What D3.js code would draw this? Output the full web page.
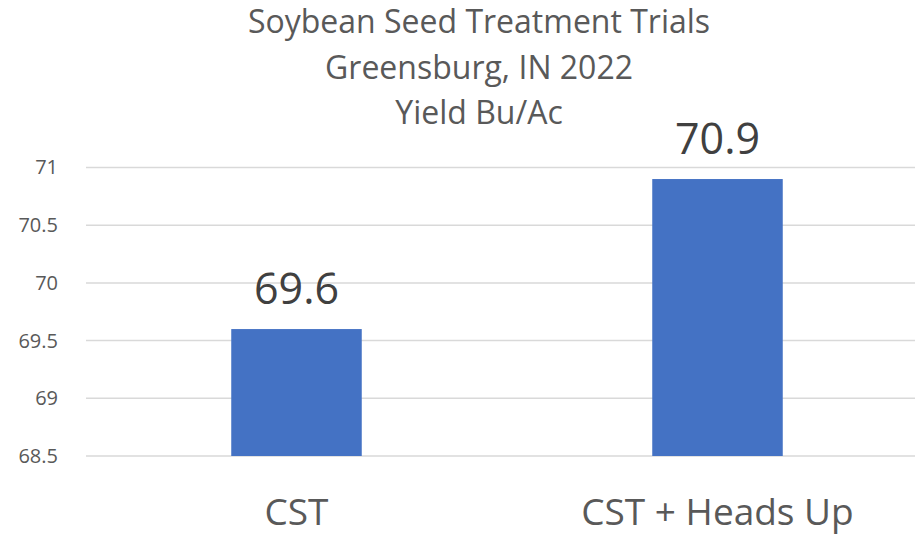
<!DOCTYPE html>
<html>
<head>
<meta charset="utf-8">
<script src="https://cdn.jsdelivr.net/npm/d3@7"></script>
<style>
  body { margin: 0; background: #fff; }
  text { font-family: "Open Sans", sans-serif; }
</style>
</head>
<body>
<script>
// chart data
var titleLines = ["Soybean Seed Treatment Trials", "Greensburg, IN 2022", "Yield Bu/Ac"];
var categories = ["CST", "CST + Heads Up"];
var yields = [69.6, 70.9];
var yTicks = [68.5, 69, 69.5, 70, 70.5, 71];

var w = 915, h = 535;

var svg = d3.select("body").append("svg")
    .attr("width", w)
    .attr("height", h);

var x = d3.scaleBand()
    .domain(categories)
    .range([86, 928])
    .paddingInner(0.69)
    .paddingOuter(0.345);

var y = d3.scaleLinear()
    .domain([68.5, 71])
    .range([456, 167.5]);

// gridlines
svg.append("g")
    .selectAll("line")
    .data(yTicks)
    .enter().append("line")
    .attr("x1", 86)
    .attr("x2", 928)
    .attr("y1", function(d) { return y(d); })
    .attr("y2", function(d) { return y(d); })
    .attr("stroke", "#d9d9d9")
    .attr("stroke-width", 1.5);

// y axis labels
var yAxis = d3.axisLeft(y)
    .tickValues(yTicks)
    .tickSize(0)
    .tickPadding(0)
    .tickFormat(function(d) { return String(d); });

var gy = svg.append("g")
    .attr("transform", "translate(58,0)")
    .call(yAxis);
gy.select(".domain").remove();
gy.selectAll("text")
    .attr("fill", "#595959")
    .style("font-size", "20px");

// bars
svg.selectAll("rect.bar")
    .data(yields)
    .enter().append("rect")
    .attr("class", "bar")
    .attr("x", function(d, i) { return x(categories[i]); })
    .attr("width", x.bandwidth())
    .attr("y", function(d) { return y(d); })
    .attr("height", function(d) { return y(68.5) - y(d); })
    .attr("fill", "#4472c4");

// value labels
svg.selectAll("text.val")
    .data(yields)
    .enter().append("text")
    .attr("class", "val")
    .attr("x", function(d, i) { return x(categories[i]) + x.bandwidth() / 2; })
    .attr("y", function(d) { return y(d) - 25; })
    .attr("text-anchor", "middle")
    .attr("fill", "#404040")
    .style("font-size", "43px")
    .text(function(d) { return d.toFixed(1); });

// category labels
var xAxis = d3.axisBottom(x).tickSize(0).tickPadding(0);
var gx = svg.append("g")
    .attr("transform", "translate(0,456)")
    .call(xAxis);
gx.select(".domain").remove();
gx.selectAll("text")
    .attr("dy", null)
    .attr("y", 69)
    .attr("fill", "#595959")
    .style("font-size", "37px");

// title
svg.append("g")
    .selectAll("text")
    .data(titleLines)
    .enter().append("text")
    .attr("x", 479)
    .attr("y", function(d, i) { return 33 + i * 45.5; })
    .attr("text-anchor", "middle")
    .attr("fill", "#595959")
    .style("font-size", "32px")
    .text(function(d) { return d; });
</script>
</body>
</html>
